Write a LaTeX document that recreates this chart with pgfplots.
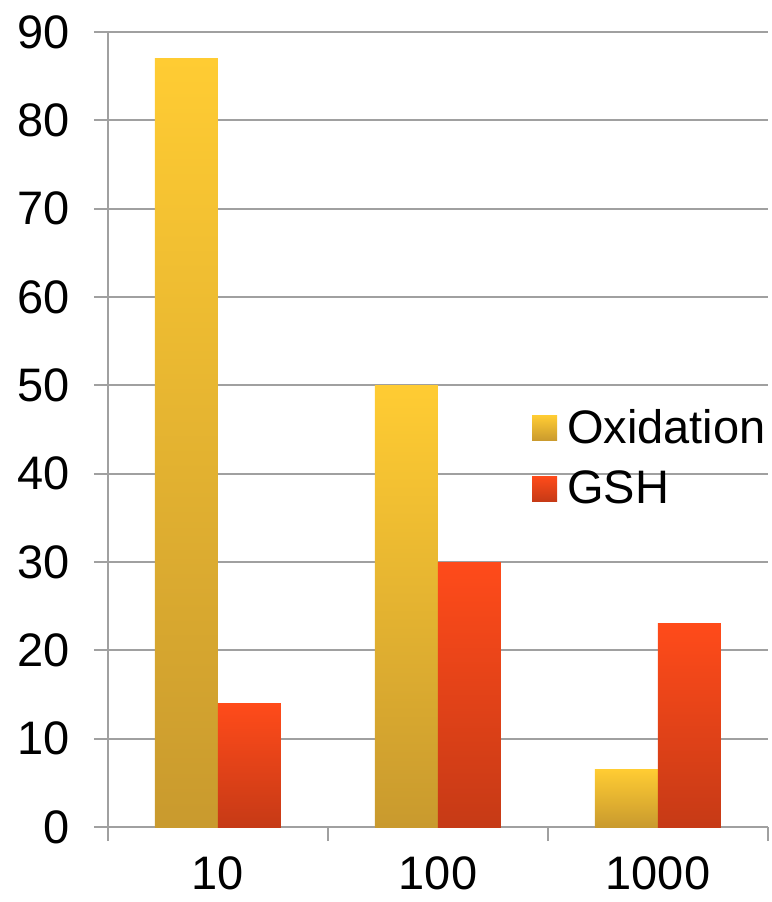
\documentclass[border=0pt]{standalone}
\usepackage{pgfplots}
\pgfplotsset{compat=1.18}
\usepackage{fontspec}
\setmainfont{Liberation Sans}
\definecolor{oxtop}{HTML}{FFCC33}
\definecolor{oxbot}{HTML}{C99A2E}
\definecolor{gstop}{HTML}{FF4B1A}
\definecolor{gsbot}{HTML}{C63A16}
\definecolor{gridgray}{HTML}{A0A0A0}
\begin{document}
\begin{tikzpicture}
\useasboundingbox (-54pt,-37.5pt) rectangle (332pt,413.5pt);
\begin{axis}[
  at={(0,0)}, anchor=south west,
  scale only axis,
  width=330pt, height=397.5pt,
  ybar, bar width=31.5pt,
  xmin=-0.5, xmax=2.5,
  ymin=0, ymax=90,
  ytick={0,10,...,90},
  xtick={0,1,2},
  xticklabels={10,100,1000},
  minor xtick={-0.5,0.5,1.5,2.5},
  major x tick style={draw=none},
  minor x tick style={gridgray, line width=1pt},
  minor tick length=7pt,
  major tick length=7pt,
  tick align=outside,
  xtick pos=bottom, ytick pos=left,
  ymajorgrids,
  grid style={gridgray, line width=1pt},
  y tick style={gridgray, line width=1pt},
  axis x line*=bottom,
  axis y line*=left,
  axis line style={gridgray, line width=1pt, -},
  font=\fontsize{23.5}{28}\selectfont,
  ticklabel style={font=\fontsize{23.5}{28}\selectfont},
  /pgf/number format/assume math mode=true,
  yticklabel style={xshift=-8.5pt},
  xticklabel style={inner ysep=0pt, yshift=-7.5pt},
  legend style={at={(0.642,0.464)}, anchor=west, draw=none, fill=none,
    font=\fontsize{23.5}{28}\selectfont, row sep=8pt, inner sep=0pt,
    /tikz/every odd column/.append style={column sep=3pt}},
  legend cell align=left,
  legend image code/.code={\path[#1,draw=none] (0pt,-6.25pt) rectangle (12.5pt,6.25pt);},
]
% each bar its own path so the gradient runs over each bar
\addplot[draw=none, top color=oxtop, bottom color=oxbot, bar shift=-15.75pt] coordinates {(0,87)};
\addplot[draw=none, top color=gstop, bottom color=gsbot, bar shift=15.75pt] coordinates {(0,14)};
\addplot[forget plot, draw=none, top color=oxtop, bottom color=oxbot, bar shift=-15.75pt] coordinates {(1,50)};
\addplot[forget plot, draw=none, top color=oxtop, bottom color=oxbot, bar shift=-15.75pt] coordinates {(2,6.5)};
\addplot[forget plot, draw=none, top color=gstop, bottom color=gsbot, bar shift=15.75pt] coordinates {(1,30)};
\addplot[forget plot, draw=none, top color=gstop, bottom color=gsbot, bar shift=15.75pt] coordinates {(2,23)};
\legend{Oxidation,GSH}
\end{axis}
\end{tikzpicture}
\end{document}
